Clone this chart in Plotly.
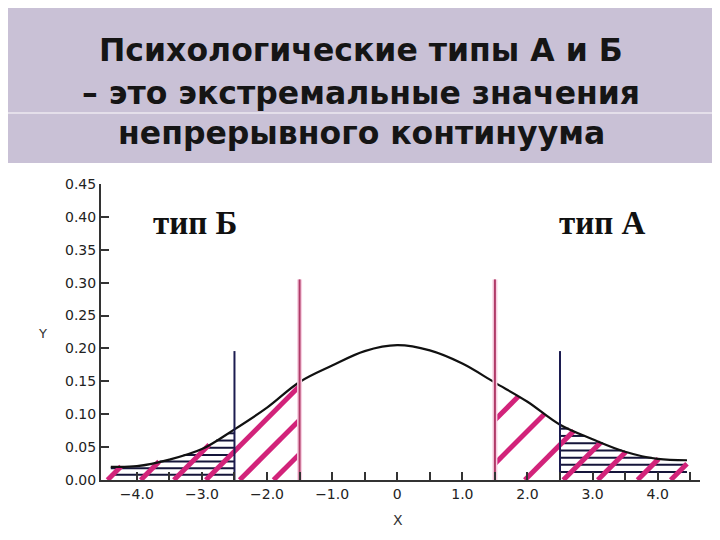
import numpy as np
import plotly.graph_objects as go

# ---------------- data ----------------
curve_x = [-4.4, -4.0, -3.5, -3.0, -2.5, -2.0, -1.5, -1.0, -0.5, 0.0,
           0.5, 1.0, 1.5, 2.0, 2.5, 3.0, 3.5, 4.0, 4.45]
curve_y = [0.020, 0.021, 0.031, 0.047, 0.077, 0.110, 0.149, 0.174, 0.196, 0.205,
           0.197, 0.177, 0.148, 0.119, 0.084, 0.062, 0.043, 0.032, 0.030]

cut_magenta = [-1.5, 1.5]        # red/magenta cut-offs
cut_magenta_top = 0.305
cut_blue = [-2.5, 2.5]           # blue cut-offs
cut_blue_top = 0.196

left_hatch_heights = [0.008, 0.018, 0.028, 0.038, 0.049, 0.060, 0.071]
right_hatch_heights = [0.012, 0.023, 0.034, 0.045, 0.056, 0.067, 0.078]
left_diag_starts = [-4.45, -3.94, -3.43, -2.94, -2.42, -1.90]
right_diag_starts = [0.58, 1.25, 1.96, 2.55, 3.08, 3.69, 4.20]

x_tickvals = [-4.0, -3.5, -3.0, -2.5, -2.0, -1.5, -1.0, -0.5, 0.0, 0.5,
              1.0, 1.5, 2.0, 2.5, 3.0, 3.5, 4.0, 4.5]
x_ticktext = ["\u22124.0", "", "\u22123.0", "", "\u22122.0", "", "\u22121.0", "", "0", "",
              "1.0", "", "2.0", "", "3.0", "", "4.0", ""]
y_tickvals = [0.00, 0.05, 0.10, 0.15, 0.20, 0.25, 0.30, 0.35, 0.40, 0.45]
y_ticktext = ["0.00", "0.05", "0.10", "0.15", "0.20", "0.25", "0.30", "0.35", "0.40", "0.45"]

title_lines = ["Психологические типы А и Б",
               "– это экстремальные значения",
               "непрерывного континуума"]
label_B = "тип Б"
label_A = "тип А"

HATCH_SLOPE = 0.0992  # 45 degrees on screen

# ---------------- derived hatch geometry ----------------
xs = np.linspace(curve_x[0], curve_x[-1], 4000)
ys = np.interp(xs, curve_x, curve_y)

hx, hy = [], []
for h in left_hatch_heights:
    m = (xs <= cut_blue[0]) & (ys >= h)
    if m.any():
        hx += [xs[m].min(), cut_blue[0], None]
        hy += [h, h, None]
for h in right_hatch_heights:
    m = (xs >= cut_blue[1]) & (ys >= h)
    if m.any():
        hx += [cut_blue[1], xs[m].max(), None]
        hy += [h, h, None]

dx, dy = [], []
for x0 in left_diag_starts:
    m = (xs >= x0) & (xs <= cut_magenta[0]) & (HATCH_SLOPE * (xs - x0) >= ys)
    xe = xs[m].min() if m.any() else cut_magenta[0]
    dx += [x0, xe, None]
    dy += [0, HATCH_SLOPE * (xe - x0), None]
for x0 in right_diag_starts:
    xs0 = max(x0, cut_magenta[1])
    m = (xs >= xs0) & (HATCH_SLOPE * (xs - x0) >= ys)
    xe = xs[m].min() if m.any() else curve_x[-1]
    dx += [xs0, xe, None]
    dy += [HATCH_SLOPE * (xs0 - x0), HATCH_SLOPE * (xe - x0), None]

fig = go.Figure()
fig.add_trace(go.Scatter(x=hx, y=hy, mode="lines",
                         line=dict(color="#15153a", width=2), hoverinfo="skip"))
fig.add_trace(go.Scatter(x=dx, y=dy, mode="lines",
                         line=dict(color="#d2237a", width=5), hoverinfo="skip"))
fig.add_trace(go.Scatter(x=curve_x, y=curve_y, mode="lines", line_shape="spline",
                         line=dict(color="#111111", width=2.2), hoverinfo="skip"))
for xv in cut_blue:
    fig.add_trace(go.Scatter(x=[xv, xv], y=[0, cut_blue_top], mode="lines",
                             line=dict(color="#1c1c50", width=2), hoverinfo="skip"))
for xv in cut_magenta:
    fig.add_trace(go.Scatter(x=[xv, xv], y=[0, cut_magenta_top], mode="lines",
                             line=dict(color="#f7cfe1", width=5), hoverinfo="skip"))
    fig.add_trace(go.Scatter(x=[xv, xv], y=[0, cut_magenta_top], mode="lines",
                             line=dict(color="#b03a68", width=2), hoverinfo="skip"))

# page body adds an 8px offset; layout is defined in screen pixels
OFF = 8
SL, SR, ST, SB = 101, 700, 184, 480          # plot area edges on screen
FW, FH = 720 - OFF, 540 - OFF
L, T = SL - OFF, ST - OFF
R, B = FW - (SR - OFF), FH - (SB - OFF)
W, H = SR - SL, SB - ST

def px(v):  # paper x from screen pixel
    return (v - SL) / W

def py(v):  # paper y from screen pixel
    return (SB - v) / H

shapes = [
    dict(type="rect", xref="paper", yref="paper", x0=px(-20), x1=px(740),
         y0=py(163), y1=py(-20), fillcolor="#c9c1d6", line=dict(width=0), layer="below"),
    dict(type="line", xref="paper", yref="paper", x0=px(-20), x1=px(740),
         y0=py(113), y1=py(113), line=dict(color="#ece8f0", width=1.5), layer="below"),
]

annotations = []
for txt, yp in zip(title_lines, [50, 93, 133]):
    annotations.append(dict(text=f"<b>{txt}</b>", xref="paper", yref="paper", x=px(361), y=py(yp),
                            xanchor="center", yanchor="middle", showarrow=False,
                            font=dict(family="DejaVu Sans", size=31.5, color="#151515")))
annotations.append(dict(text=f"<b>{label_B}</b>", x=-3.11, y=0.39, xref="x", yref="y",
                        showarrow=False, font=dict(family="Liberation Serif", size=33, color="#111")))
annotations.append(dict(text=f"<b>{label_A}</b>", x=3.15, y=0.39, xref="x", yref="y",
                        showarrow=False, font=dict(family="Liberation Serif", size=33, color="#111")))
annotations.append(dict(text="Y", xref="paper", yref="paper", x=px(42), y=py(333),
                        xanchor="center", yanchor="middle",
                        showarrow=False, font=dict(family="DejaVu Sans", size=13, color="#333")))
annotations.append(dict(text="X", xref="paper", yref="paper", x=px(398), y=py(520),
                        xanchor="center", yanchor="middle",
                        showarrow=False, font=dict(family="DejaVu Sans", size=14, color="#333")))

tfont = dict(family="DejaVu Sans", size=14, color="#222")
fig.update_layout(
    width=FW, height=FH, margin=dict(l=L, r=R, t=T, b=B),
    paper_bgcolor="#ffffff", plot_bgcolor="#ffffff", showlegend=False,
    shapes=shapes, annotations=annotations,
    xaxis=dict(range=[-4.55, 4.65], tickvals=x_tickvals, ticktext=x_ticktext,
               ticks="inside", ticklen=8, tickwidth=2, tickcolor="#333",
               showline=True, linecolor="#333", linewidth=2, showgrid=False, zeroline=False,
               tickfont=tfont),
    yaxis=dict(range=[0, 0.45], tickvals=y_tickvals, ticktext=y_ticktext,
               ticks="inside", ticklen=8, tickwidth=2, tickcolor="#333",
               showline=True, linecolor="#333", linewidth=2, showgrid=False, zeroline=False,
               tickfont=tfont),
)
fig.write_html("out.html")
